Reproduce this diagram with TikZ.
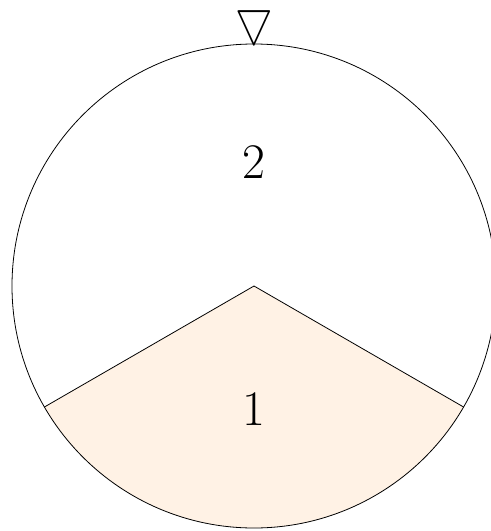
\documentclass[tikz,border=0pt]{standalone}
\usepackage{amssymb}
\begin{document}
\begin{tikzpicture}[x=0.5pt,y=0.5pt,
  lbl/.style={font=\Huge, inner sep=0pt}]
\useasboundingbox (0,0) rectangle (491,-531);
\clip (0,0) rectangle (491,-531);
\coordinate (c) at (254,-286);
\fill[orange!10] (c) -- ++(-150:242) arc[start angle=-150,end angle=-30,radius=242] -- cycle;
\draw (c) -- ++(-150:242);
\draw (c) -- ++(-30:242);
\draw (c) circle[radius=242];
\node[lbl] (two) at (254,-162) {2};
\node[lbl] (one) at (254,-409) {1};
\node[font=\fontsize{23}{28}\selectfont, inner sep=0pt, xscale=0.85] (mark) at (254,-23) {$\bigtriangledown$};
\end{tikzpicture}
\end{document}
